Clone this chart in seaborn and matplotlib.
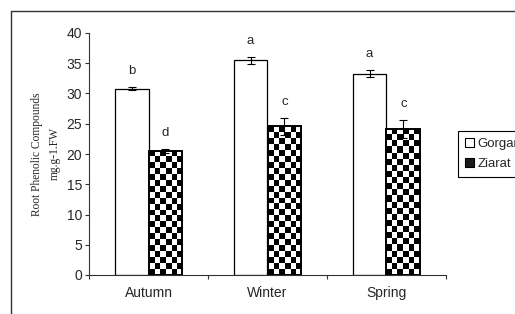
from matplotlib import pyplot as plt
from matplotlib.patches import Patch
from matplotlib.lines import Line2D
import numpy as np
import pandas as pd
import seaborn as sns

# chart data
seasons = ['Autumn', 'Winter', 'Spring']
sites = ['Gorgan', 'Ziarat']
gorgan_vals = [30.8, 35.5, 33.3]
gorgan_err = [0.3, 0.6, 0.6]
ziarat_vals = [20.5, 24.6, 24.2]
ziarat_err = [0.3, 1.4, 1.5]
gorgan_letters = ['b', 'a', 'a']
ziarat_letters = ['d', 'c', 'c']
y_ticks = [0, 5, 10, 15, 20, 25, 30, 35, 40]

df = pd.DataFrame({
    'season': seasons * 2,
    'site': [sites[0]] * 3 + [sites[1]] * 3,
    'value': gorgan_vals + ziarat_vals,
})

sns.set_style('white')
plt.rcParams['font.family'] = ['Liberation Sans', 'DejaVu Sans']

fig = plt.figure(figsize=(5.15, 3.14), dpi=100)
ax = fig.add_axes([89 / 515, 1 - 275 / 314, 357 / 515, 242 / 314])

sns.barplot(data=df, x='season', y='value', hue='site', order=seasons, hue_order=sites,
            palette=['white', 'white'], edgecolor='black', linewidth=0.9,
            width=0.57, gap=0, errorbar=None, legend=False, ax=ax, zorder=2)

ax.set_xlim(-0.5, 2.5)
ax.set_ylim(0, 40)

# checkerboard fill for the Ziarat bars, clipped to each bar
sq = 6.0  # square size in pixels
for bar in ax.containers[1]:
    x0, y0 = bar.get_x(), bar.get_y()
    x1, y1 = x0 + bar.get_width(), y0 + bar.get_height()
    (px0, py0), (px1, py1) = ax.transData.transform([(x0, y0), (x1, y1)])
    ncols = max(1, int(round((px1 - px0) / sq)))
    nrows = max(1, int(round((py1 - py0) / sq)))
    board = np.indices((nrows, ncols)).sum(axis=0) % 2
    im = ax.imshow(board, cmap='gray', extent=(x0, x1, y0, y1), origin='lower',
                   interpolation='nearest', aspect='auto', zorder=2.5, vmin=0, vmax=1)
    im.set_clip_path(bar)
    bar.set_zorder(3)
    bar.set_facecolor('none')
    bar.set_linewidth(1.4)

ax.set_xlim(-0.5, 2.5)
ax.set_ylim(0, 40)

# error bars and significance letters
for cont, vals, errs, letters in [(ax.containers[0], gorgan_vals, gorgan_err, gorgan_letters),
                                  (ax.containers[1], ziarat_vals, ziarat_err, ziarat_letters)]:
    centers = [b.get_x() + b.get_width() / 2 for b in cont]
    ax.errorbar(centers, vals, yerr=errs, fmt='none', ecolor='black', elinewidth=0.8,
                capsize=3, capthick=0.8, zorder=4)
    for cx, v, e, lt in zip(centers, vals, errs, letters):
        ax.annotate(lt, (cx, v + e), xytext=(0, 7), textcoords='offset points',
                    ha='center', va='bottom', fontsize=9.5)

# axes styling
ax.set_yticks(y_ticks)
ax.tick_params(axis='y', direction='out', length=3, width=0.8, color='#333333',
               labelsize=10, pad=2, left=True)
ax.set_xticks([-0.5, 0.5, 1.5, 2.5])
ax.set_xticklabels([])
ax.set_xticks(range(len(seasons)), minor=True)
ax.set_xticklabels(seasons, minor=True)
ax.tick_params(axis='x', which='major', direction='out', length=3, width=0.8,
               color='#333333', bottom=True)
ax.tick_params(axis='x', which='minor', length=0, labelsize=10, pad=8)
ax.set_xlabel('')
ax.set_ylabel('Root Phenolic Compounds\nmg.g-1.FW', family=['Liberation Serif', 'DejaVu Serif'],
              fontsize=8.3, linespacing=1.6)
ax.yaxis.set_label_coords(-0.08, 0.5)
for side in ['top', 'right']:
    ax.spines[side].set_visible(False)
for side in ['left', 'bottom']:
    ax.spines[side].set_color('#333333')
    ax.spines[side].set_linewidth(0.8)

# legend, partly off the right edge like the original
handles = [Patch(facecolor='white', edgecolor='black', linewidth=0.8),
           Patch(facecolor='#1a1a1a', edgecolor='black', linewidth=0.8)]
fig.legend(handles, sites, loc='upper left', bbox_to_anchor=(458 / 515, 1 - 131 / 314),
           fontsize=9.5, frameon=True, fancybox=False, edgecolor='black', framealpha=1,
           handlelength=0.7, handleheight=0.7, handletextpad=0.3, borderpad=0.5,
           labelspacing=0.6, borderaxespad=0)
fig.legends[0].get_frame().set_linewidth(0.8)

# outer frame (top and left edges)
fig.add_artist(Line2D([11 / 515, 1.0], [1 - 10.5 / 314, 1 - 10.5 / 314], color='#333333', lw=1.0))
fig.add_artist(Line2D([11 / 515, 11 / 515], [0.0, 1 - 10.5 / 314], color='#333333', lw=1.0))

fig.savefig('out.png', dpi=100)
